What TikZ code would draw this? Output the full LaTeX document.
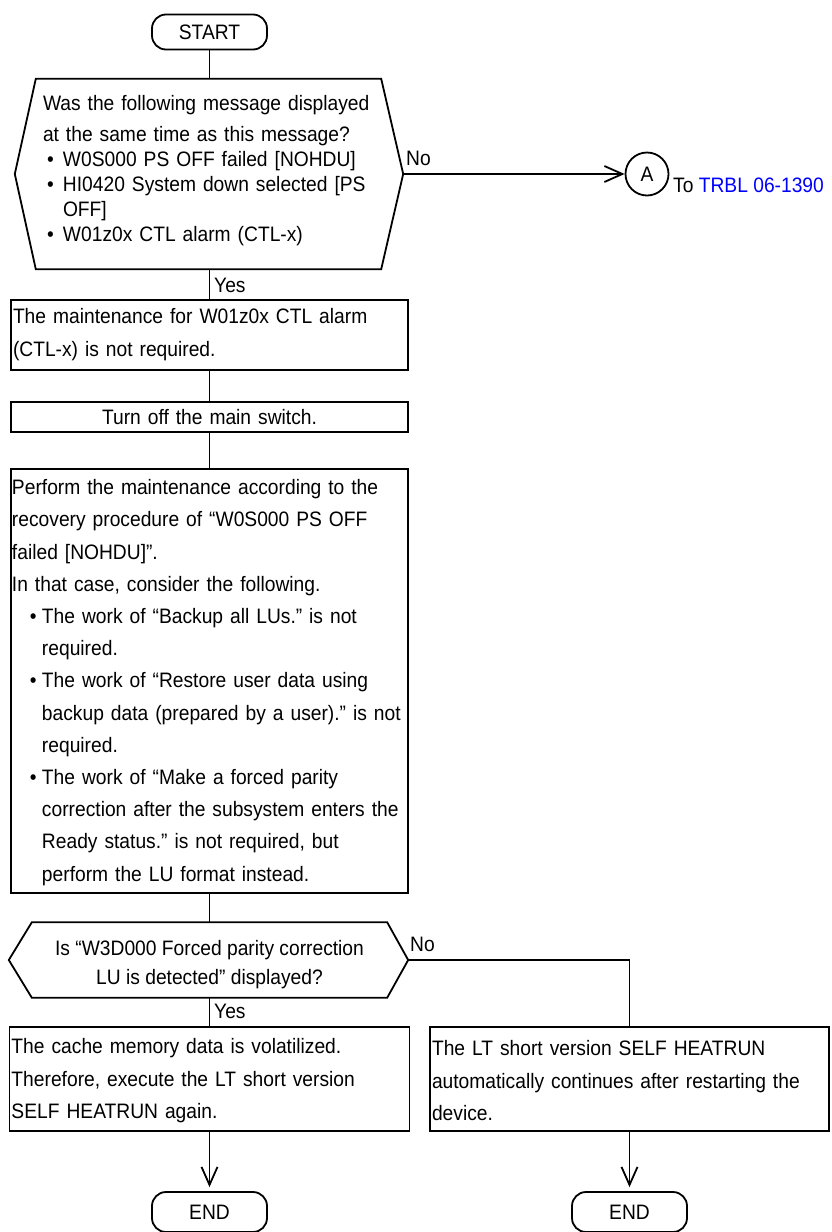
\documentclass[tikz,border=0pt]{standalone}
\usepackage{fontspec}
\setmainfont[FakeStretch=0.92]{Liberation Sans}
\usetikzlibrary{arrows.meta,calc}
\frenchspacing
\hyphenpenalty=10000
\exhyphenpenalty=10000
\newcommand{\fs}{20.9}
\begin{document}
\begin{tikzpicture}[x=1pt,y=-1pt,
  every node/.style={font=\fontsize{\fs}{31.5}\selectfont},
  ln/.style={line width=1.8pt},
  box/.style={draw, line width=1.8pt, rectangle, inner xsep=2pt, inner ysep=0pt, align=left},
  term/.style={draw, line width=1.8pt, rounded corners=14pt, minimum width=115pt, minimum height=35pt, inner sep=0pt},
  arr/.style={ln, -{Straight Barb[length=18pt,width=16pt,line width=1.8pt]}},
  lbl/.style={inner sep=0pt, anchor=west},
  hex/.style={ln, line join=miter}
]
\useasboundingbox (0,0) rectangle (832,1232);

% START
\node[term] (start) at (209.5,32) {START};

% Decision 1
\node[minimum width=345pt, minimum height=190pt, inner xsep=0pt, inner ysep=0pt,
      text width=345pt, align=left, font=\fontsize{\fs}{25}\selectfont] (dec1) at (208.5,174)
 {\hspace*{7pt}Was the following message displayed\\[6pt]
  \hspace*{7pt}at the same time as this message?\\
  \hspace*{11pt}\makebox[16pt][l]{•}W0S000 PS OFF failed [NOHDU]\\
  \hspace*{11pt}\makebox[16pt][l]{•}HI0420 System down selected [PS\\
  \hspace*{27pt}OFF]\\
  \hspace*{11pt}\makebox[16pt][l]{•}W01z0x CTL alarm (CTL-x)\rule[-12pt]{0pt}{1pt}};
\draw[hex] (dec1.north west) -- (dec1.north east) -- ($(dec1.east)+(22,0)$) coordinate (dec1r)
  -- (dec1.south east) -- (dec1.south west) -- ($(dec1.west)+(-21,0)$) -- cycle;
\node[lbl] (no1) at (406,158) {No};

% Connector A
\node[draw, circle, ln, minimum size=43pt, inner sep=0pt] (A) at (647,174) {A};
\node[lbl] (tolbl) at (673,185) {To \textcolor{blue}{TRBL 06-1390}};
\draw[arr] (dec1r) -- (A);

% Box 1
\node[box, text width=393pt, minimum height=70pt, font=\fontsize{\fs}{33}\selectfont] (b1) at (209.5,335)
 {The maintenance for W01z0x CTL alarm\\(CTL-x) is not required.};
\node[lbl] (yes1) at (214,285) {Yes};

% Box 2
\node[box, text width=393pt, minimum height=30pt, align=center] (b2) at (209.5,417) {Turn off the main switch.};

% Box 3
\node[box, text width=395pt, inner xsep=1pt, minimum height=424pt, font=\fontsize{\fs}{32.2}\selectfont] (b3) at (209.5,681)
 {\rule{0pt}{18pt}Perform the maintenance according to the\\
  recovery procedure of “W0S000 PS OFF\\
  failed [NOHDU]”.\\
  In that case, consider the following.\\
  \hspace*{18pt}\makebox[12pt][l]{•}The work of “Backup all LUs.” is not\\
  \hspace*{30pt}required.\\
  \hspace*{18pt}\makebox[12pt][l]{•}The work of “Restore user data using\\
  \hspace*{30pt}backup data (prepared by a user).” is not\\
  \hspace*{30pt}required.\\
  \hspace*{18pt}\makebox[12pt][l]{•}The work of “Make a forced parity\\
  \hspace*{30pt}correction after the subsystem enters the\\
  \hspace*{30pt}Ready status.” is not required, but\\
  \hspace*{30pt}perform the LU format instead.};

% Decision 2
\node[minimum width=355pt, minimum height=75pt, inner sep=0pt, align=center,
      font=\fontsize{\fs}{29}\selectfont] (dec2) at (209.5,960)
 {\rule{0pt}{24pt}Is “W3D000 Forced parity correction\\LU is detected” displayed?};
\draw[hex] (dec2.north west) -- (dec2.north east) -- ($(dec2.east)+(21,0)$) coordinate (dec2r)
  -- (dec2.south east) -- (dec2.south west) -- ($(dec2.west)+(-23,0)$) -- cycle;
\node[lbl] (no2) at (410,944) {No};
\node[lbl] (yes2) at (214,1011) {Yes};

% Bottom boxes
\node[box, text width=396pt, minimum height=104pt, font=\fontsize{\fs}{32.5}\selectfont] (bL) at (209.5,1079)
 {\rule{0pt}{19pt}The cache memory data is volatilized.\\
  Therefore, execute the LT short version\\
  SELF HEATRUN again.};
\node[box, text width=395pt, minimum height=104pt, font=\fontsize{\fs}{32.5}\selectfont] (bR) at (629.5,1079)
 {\rule{0pt}{19pt}The LT short version SELF HEATRUN\\
  automatically continues after restarting the\\
  device.};

% END terminals
\node[term, minimum height=40pt] (end1) at (209.5,1212) {END};
\node[term, minimum height=40pt] (end2) at (629.5,1212) {END};

% Connectors
\draw[ln] (start.south) -- (dec1.north -| start.south);
\draw[ln] (dec1.south -| b1.north) -- (b1.north);
\draw[ln] (b1.south) -- (b2.north);
\draw[ln] (b2.south) -- (b3.north);
\draw[ln] (b3.south) -- (dec2.north);
\draw[ln] (dec2.south) -- (bL.north);
\draw[ln] (dec2r) -| (bR.north);
\draw[arr, shorten >=4pt] (bL.south) -- (end1.north);
\draw[arr, shorten >=4pt] (bR.south) -- (end2.north);
\end{tikzpicture}
\end{document}
